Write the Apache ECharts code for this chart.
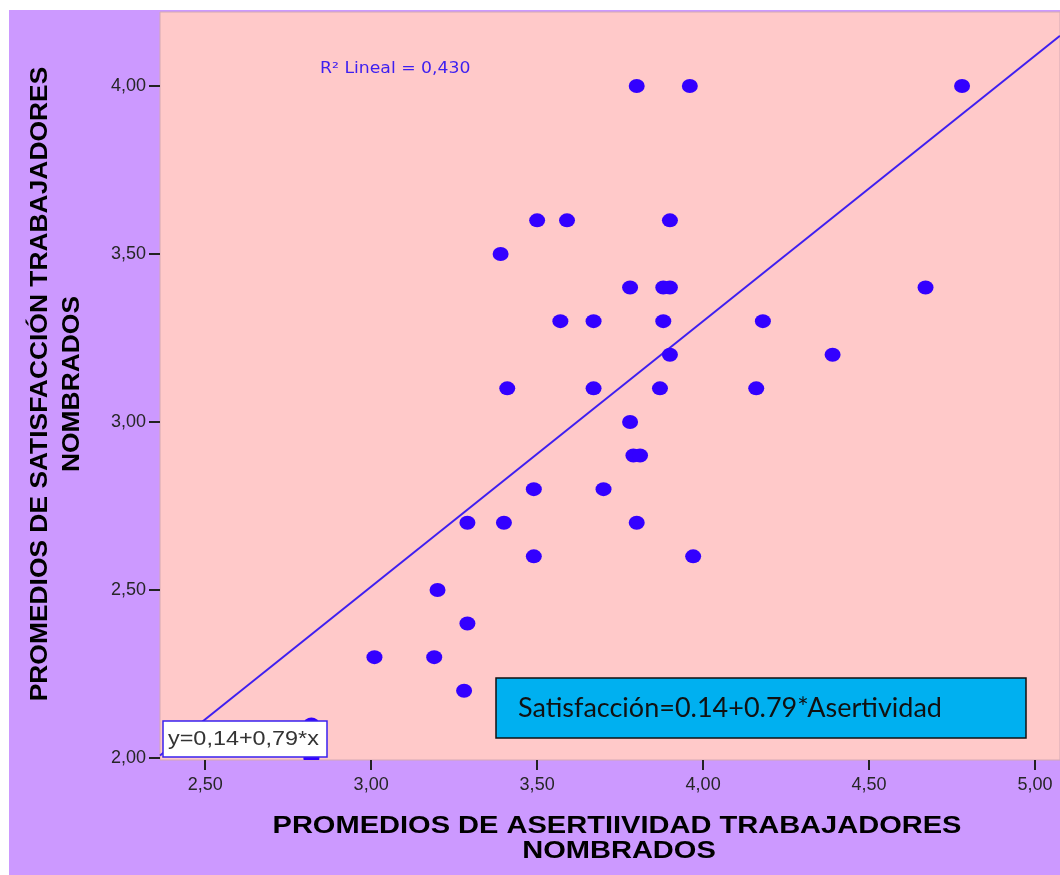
<!DOCTYPE html>
<html>
<head>
<meta charset="utf-8">
<script src="https://cdn.jsdelivr.net/npm/echarts@6/dist/echarts.min.js"></script>
<style>
  html, body { margin: 0; padding: 0; background: #ffffff; }
  #chart { position: absolute; left: 9px; top: 10px; width: 1051px; height: 865px; }
</style>
</head>
<body>
<div id="chart"></div>
<script>
// Promedios de asertividad (x) y satisfacción (y) de trabajadores nombrados
const asertividad = [
  3.80, 3.96, 4.78,
  3.50, 3.59, 3.90,
  3.39,
  3.78, 3.88, 3.90, 4.67,
  3.57, 3.67, 3.88, 4.18,
  3.90, 4.39,
  3.41, 3.67, 3.87, 4.16,
  3.78,
  3.79, 3.81,
  3.49, 3.70,
  3.29, 3.40, 3.80,
  3.49, 3.97,
  3.20,
  3.29,
  3.01, 3.19,
  3.28,
  2.82,
  2.82
];
const satisfaccion = [
  4.0, 4.0, 4.0,
  3.6, 3.6, 3.6,
  3.5,
  3.4, 3.4, 3.4, 3.4,
  3.3, 3.3, 3.3, 3.3,
  3.2, 3.2,
  3.1, 3.1, 3.1, 3.1,
  3.0,
  2.9, 2.9,
  2.8, 2.8,
  2.7, 2.7, 2.7,
  2.6, 2.6,
  2.5,
  2.4,
  2.3, 2.3,
  2.2,
  2.1,
  2.0
];

// Recta de ajuste lineal
const intercepto = 0.14;
const pendiente = 0.79;
const r2 = 0.430;

// Rangos y marcas de los ejes
const xRange = [2.364, 5.075];
const yRange = [1.994, 4.22];
const xTicks = [2.5, 3.0, 3.5, 4.0, 4.5, 5.0];
const yTicks = [2.0, 2.5, 3.0, 3.5, 4.0];

// Títulos de los ejes (una entrada por línea)
const xTitulo = ['PROMEDIOS DE ASERTIIVIDAD TRABAJADORES', 'NOMBRADOS'];
const yTitulo = ['PROMEDIOS DE SATISFACCIÓN TRABAJADORES', 'NOMBRADOS'];

const puntos = asertividad.map((x, i) => [x, satisfaccion[i]]);
const recta = xRange.map(x => [x, intercepto + pendiente * x]);

const coma = (v, d) => v.toFixed(d).replace('.', ',');

const chart = echarts.init(document.getElementById('chart'), null, { renderer: 'canvas' });

const axisFont = { fontFamily: 'Liberation Sans, Arial, sans-serif', fontSize: 18, color: '#262626' };
const tituloFont = 'bold 24px "Liberation Sans", Arial, sans-serif';

// Textos de título, estirados horizontalmente
function titulo(text, x, y, rot, sx) {
  return {
    type: 'text', x: x, y: y, rotation: rot, scaleX: sx, z: 20,
    style: { text: text, font: tituloFont, fill: '#000000', align: 'center', verticalAlign: 'middle' }
  };
}

// Punto elíptico (16 x 14 px) recortado al área del gráfico
function renderPunto(params, api) {
  const p = api.coord([api.value(0), api.value(1)]);
  return {
    type: 'circle',
    x: p[0], y: p[1], scaleX: 8 / 7,
    shape: { cx: 0, cy: 0, r: 7 },
    style: { fill: '#3300ff' }
  };
}

chart.setOption({
  backgroundColor: '#cc99ff',
  animation: false,
  grid: {
    left: 151, top: 2, right: 0, bottom: 115,
    show: true,
    backgroundColor: '#ffc9c9',
    borderColor: '#d4a9b4',
    borderWidth: 1
  },
  xAxis: {
    type: 'value',
    min: xRange[0], max: xRange[1],
    splitLine: { show: false },
    axisLine: { show: false },
    axisTick: { show: true, customValues: xTicks, length: 10, lineStyle: { color: '#222', width: 2 } },
    axisLabel: { customValues: xTicks, formatter: v => coma(v, 2), margin: 16, ...axisFont }
  },
  yAxis: {
    type: 'value',
    min: yRange[0], max: yRange[1],
    splitLine: { show: false },
    axisLine: { show: false },
    axisTick: { show: true, customValues: yTicks, length: 11, lineStyle: { color: '#222', width: 2 } },
    axisLabel: { customValues: yTicks, formatter: v => coma(v, 2), margin: 14, ...axisFont }
  },
  series: [
    {
      type: 'line',
      data: recta,
      symbol: 'none',
      lineStyle: { color: '#3f1ff0', width: 2 },
      z: 2
    },
    {
      type: 'custom',
      data: puntos,
      renderItem: renderPunto,
      encode: { x: 0, y: 1 },
      clip: true,
      z: 3
    }
  ],
  graphic: {
    elements: [
      titulo(xTitulo[0], 608, 816, 0, 1.21),
      titulo(xTitulo[1], 610, 841, 0, 1.21),
      titulo(yTitulo[0], 31, 374, Math.PI / 2, 1.1),
      titulo(yTitulo[1], 63, 374, Math.PI / 2, 1.1),
      {
        type: 'text', x: 311, y: 52, scaleX: 1.15, z: 20,
        style: {
          text: 'R² Lineal = ' + coma(r2, 3),
          fill: '#3d1ff0',
          font: '15px "DejaVu Sans", Verdana, sans-serif'
        }
      },
      // Recuadros de la ecuación, en una capa superior sobre los puntos
      {
        type: 'rect', x: 154, y: 711, z: 20, zlevel: 1,
        shape: { x: 0, y: 0, width: 164, height: 36 },
        style: { fill: '#ffffff', stroke: '#3a20f0', lineWidth: 1.5 }
      },
      {
        type: 'text', x: 159, y: 729, scaleX: 1.17, z: 21, zlevel: 1,
        style: { text: 'y=' + coma(intercepto, 2) + '+' + coma(pendiente, 2) + '*x',
                 fill: '#333333', font: '20px "Liberation Sans", Arial, sans-serif', verticalAlign: 'middle' }
      },
      {
        type: 'rect', x: 487, y: 668, z: 20, zlevel: 1,
        shape: { x: 0, y: 0, width: 530, height: 60 },
        style: { fill: '#00b0f0', stroke: '#111111', lineWidth: 1.5 }
      },
      {
        type: 'text', x: 509, y: 698, z: 21, zlevel: 1,
        style: { text: 'Satisfacción=' + intercepto + '+' + pendiente + '*Asertividad',
                 fill: '#111111', font: '27px Lato, "Open Sans", sans-serif', verticalAlign: 'middle' }
      }
    ]
  }
});
</script>
</body>
</html>
